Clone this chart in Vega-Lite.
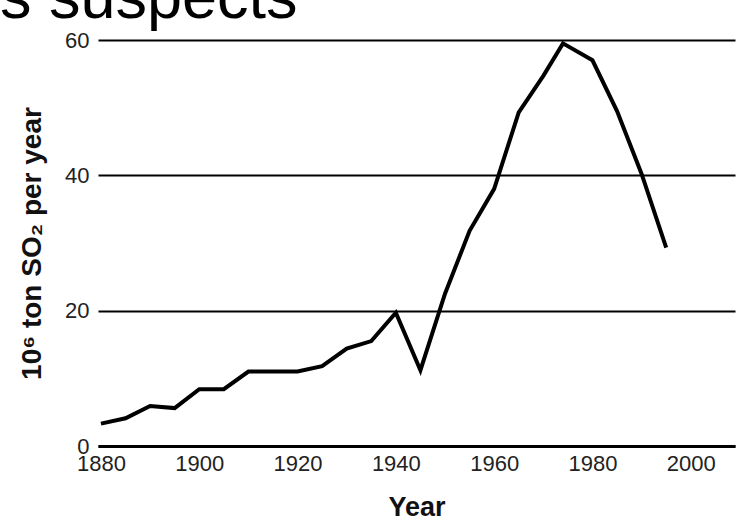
{
  "$schema": "https://vega.github.io/schema/vega-lite/v6.json",
  "width": 637,
  "height": 406,
  "autosize": {"type": "none"},
  "padding": {"left": 98, "top": 40, "right": 11, "bottom": 83},
  "background": "white",
  "title": {
    "text": "s suspects",
    "anchor": "start",
    "frame": "group",
    "dx": -98,
    "dy": 52,
    "offset": 0,
    "fontSize": 63,
    "font": "Liberation Sans",
    "fontWeight": "normal",
    "color": "black",
    "baseline": "alphabetic"
  },
  "config": {"view": {"stroke": null}},
  "data": {
    "values": [
      {"year": 1880, "so2": 3.3},
      {"year": 1885, "so2": 4.1},
      {"year": 1890, "so2": 5.9},
      {"year": 1895, "so2": 5.6},
      {"year": 1900, "so2": 8.4},
      {"year": 1905, "so2": 8.4},
      {"year": 1910, "so2": 11},
      {"year": 1915, "so2": 11},
      {"year": 1920, "so2": 11},
      {"year": 1925, "so2": 11.8},
      {"year": 1930, "so2": 14.4},
      {"year": 1935, "so2": 15.5},
      {"year": 1940, "so2": 19.7},
      {"year": 1945, "so2": 11.2},
      {"year": 1950, "so2": 22.5},
      {"year": 1955, "so2": 31.8},
      {"year": 1960, "so2": 38},
      {"year": 1965, "so2": 49.3},
      {"year": 1970, "so2": 54.7},
      {"year": 1974, "so2": 59.5},
      {"year": 1980, "so2": 57},
      {"year": 1985, "so2": 49.5},
      {"year": 1990, "so2": 40.2},
      {"year": 1995, "so2": 29.3}
    ]
  },
  "mark": {"type": "line", "color": "black", "strokeWidth": 4, "strokeJoin": "miter", "strokeCap": "butt"},
  "encoding": {
    "x": {
      "field": "year",
      "type": "quantitative",
      "scale": {"domain": [1879.4, 2009], "nice": false, "zero": false},
      "axis": {
        "values": [1880, 1900, 1920, 1940, 1960, 1980, 2000],
        "format": "d",
        "title": "Year",
        "grid": false,
        "ticks": false,
        "domain": true,
        "domainColor": "black",
        "domainWidth": 3,
        "labelFont": "Liberation Sans",
        "labelFontSize": 22,
        "labelColor": "#222",
        "labelPadding": 7,
        "labelFlush": false,
        "titleFont": "Liberation Sans",
        "titleFontSize": 27,
        "titleFontWeight": "bold",
        "titleColor": "#111",
        "titlePadding": 20
      }
    },
    "y": {
      "field": "so2",
      "type": "quantitative",
      "scale": {"domain": [0, 60], "nice": false},
      "axis": {
        "values": [0, 20, 40, 60],
        "title": "10⁶ ton SO₂ per year",
        "grid": true,
        "gridColor": "black",
        "gridWidth": 2,
        "domain": false,
        "ticks": false,
        "labelFont": "Liberation Sans",
        "labelFontSize": 22,
        "labelColor": "#222",
        "labelPadding": 9,
        "titleFont": "Liberation Sans",
        "titleFontSize": 28,
        "titleFontWeight": "bold",
        "titleColor": "#111",
        "titlePadding": 18
      }
    }
  }
}
